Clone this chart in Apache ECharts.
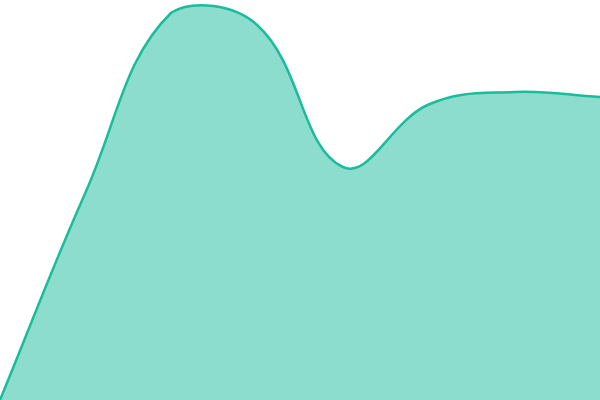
<!DOCTYPE html>
<html>

<head>
  <meta charset="utf-8">
  <title>Area</title>
  <script src="https://cdn.jsdelivr.net/npm/echarts@6/dist/echarts.min.js"></script>
  <style>
    html,
    body {
      margin: 0;
      padding: 0;
    }

    #main {
      width: 600px;
      height: 400px;
    }
  </style>
</head>

<body>
  <div id="main"></div>
  <script>
    // data
    var categories = ['A', 'B', 'C', 'D', 'E', 'F', 'G', 'H'];
    var values = [0, 208, 387.5, 375, 233, 295.5, 308, 303];

    var tension = 0.4;

    var mychart = echarts.init(document.getElementById('main'));

    // spline through the points, control points kept inside the plot box
    function splinePath(pts, box) {
      var clampX = function (v) { return Math.min(Math.max(v, box.x), box.x + box.width); };
      var clampY = function (v) { return Math.min(Math.max(v, box.y), box.y + box.height); };
      var cps = [];
      for (var i = 0; i < pts.length; i++) {
        var cur = pts[i];
        var prev = pts[i - 1] || cur;
        var next = pts[i + 1] || cur;
        var d01 = Math.hypot(cur[0] - prev[0], cur[1] - prev[1]);
        var d12 = Math.hypot(next[0] - cur[0], next[1] - cur[1]);
        var s01 = d01 / (d01 + d12) || 0;
        var s12 = d12 / (d01 + d12) || 0;
        var fa = tension * s01;
        var fb = tension * s12;
        cps.push({
          before: [clampX(cur[0] - fa * (next[0] - prev[0])), clampY(cur[1] - fa * (next[1] - prev[1]))],
          after: [clampX(cur[0] + fb * (next[0] - prev[0])), clampY(cur[1] + fb * (next[1] - prev[1]))]
        });
      }
      var d = 'M' + pts[0][0] + ' ' + pts[0][1];
      for (var j = 1; j < pts.length; j++) {
        var a = cps[j - 1].after;
        var b = cps[j].before;
        d += ' C' + a[0] + ' ' + a[1] + ' ' + b[0] + ' ' + b[1] + ' ' + pts[j][0] + ' ' + pts[j][1];
      }
      return d;
    }

    function renderArea(params, api) {
      if (params.dataIndex !== 0) {
        return;
      }
      var box = params.coordSys;
      var pts = values.map(function (v, i) {
        return api.coord([i, v]);
      });
      var line = splinePath(pts, box);
      var base = api.coord([0, 0])[1];
      var area = line + ' L' + pts[pts.length - 1][0] + ' ' + base + ' L' + pts[0][0] + ' ' + base + ' Z';
      return {
        type: 'group',
        children: [{
          type: 'path',
          shape: { pathData: area },
          style: { fill: 'rgba(26,188,156,0.5)', stroke: null }
        }, {
          type: 'path',
          shape: { pathData: line },
          style: { fill: null, stroke: '#1abc9c', lineWidth: 2.5 }
        }]
      };
    }

    var option = {
      animation: false,
      grid: {
        left: 0,
        right: 0,
        top: 0,
        bottom: 0
      },
      xAxis: {
        type: 'category',
        boundaryGap: false,
        data: categories,
        show: false
      },
      yAxis: {
        type: 'value',
        min: 0,
        max: 400,
        show: false
      },
      series: [{
        type: 'custom',
        renderItem: renderArea,
        data: values.map(function (v, i) { return [i, v]; })
      }]
    };

    mychart.setOption(option);
  </script>
</body>

</html>
